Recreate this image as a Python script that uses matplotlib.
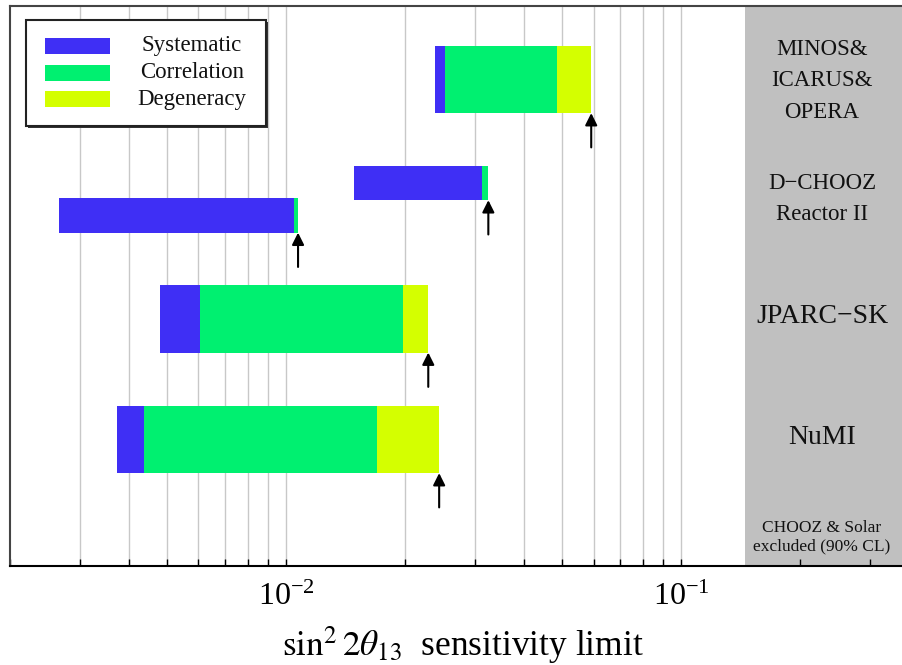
import numpy as np
import matplotlib.pyplot as plt
from matplotlib.patches import Rectangle
from matplotlib.transforms import blended_transform_factory

plt.rcParams['font.family'] = ['Liberation Serif', 'DejaVu Serif']
plt.rcParams['mathtext.fontset'] = 'stix'

# bar edges per experiment (sin^2 2theta13)
experiments = ['NuMI', 'JPARC-SK', 'Reactor II', 'D-CHOOZ', 'MINOS&ICARUS&OPERA']
start = [0.00373, 0.0048, 0.00266, 0.01486, 0.0238]
systematic = [0.00437, 0.00606, 0.01048, 0.0313, 0.0253]
correlation = [0.0170, 0.0198, 0.01072, 0.0325, 0.0486]
degeneracy = [0.0244, 0.0229, 0.01072, 0.0325, 0.0592]
excluded_from = 0.145

group_labels = ['NuMI', 'JPARC\u2212SK', 'D\u2212CHOOZ\nReactor II', 'MINOS&\nICARUS&\nOPERA',
                'CHOOZ & Solar\nexcluded (90% CL)']
legend_labels = ['Systematic', 'Correlation', 'Degeneracy']
colors = ['#3f2ff5', '#00f070', '#d4ff00']

# layout
row_y = [1.807, 3.529, 5.007, 5.471, 6.95]
row_h = [0.96, 0.96, 0.49, 0.49, 0.96]
label_y = [1.84, 3.57, 5.243, 6.93, 0.414]
label_size = [20, 20, 16.5, 16.5, 12.5]
label_spacing = [1.2, 1.2, 1.65, 1.65, 1.2]

fig = plt.figure(figsize=(9.02, 6.65), dpi=100)
ax = fig.add_axes([10 / 902, 99 / 665, 909 / 902, 560 / 665])
ax.set_xscale('log')
ax.set_xlim(0.002, 0.4)
ax.set_ylim(0, 8)

# grid lines only left of the shaded region
grid_x = np.outer(np.arange(1, 10), 10.0 ** np.arange(-3, 0)).T.ravel()
grid_x = grid_x[(grid_x > 0.002) & (grid_x < excluded_from)]
ax.vlines(grid_x, 0, 8, color='#c8c8c8', lw=1, zorder=0.8)
ax.axvspan(excluded_from, 0.4, color='#c0c0c0', zorder=0.9, lw=0)

s = np.array(start)
e1 = np.array(systematic)
e2 = np.array(correlation)
e3 = np.array(degeneracy)
ax.barh(row_y, e1 - s, left=s, height=row_h, color=colors[0], zorder=2)
ax.barh(row_y, e2 - e1, left=e1, height=row_h, color=colors[1], zorder=2)
ax.barh(row_y, e3 - e2, left=e2, height=row_h, color=colors[2], zorder=2)

for x, y, h in zip(e3, row_y, row_h):
    ax.annotate('', xy=(x, y - h / 2), xytext=(x, y - h / 2 - 0.49),
                arrowprops=dict(arrowstyle='-|>', color='black', lw=1.5,
                                mutation_scale=18, shrinkA=0, shrinkB=0),
                zorder=3)

tr = blended_transform_factory(ax.transAxes, ax.transData)
for txt, y, fs, ls in zip(group_labels, label_y, label_size, label_spacing):
    ax.text(0.8933, y, txt, transform=tr, ha='center', va='center',
            fontsize=fs, linespacing=ls, color='#111111')


# legend drawn in pixel-based axes fractions
def fx(px):
    return (px - 10) / 909


def fy(py):
    return (566 - py) / 560


ax.add_patch(Rectangle((fx(28), fy(128)), fx(268) - fx(28), fy(22) - fy(128),
                       transform=ax.transAxes, facecolor='#333333', lw=0, zorder=3.9))
ax.add_patch(Rectangle((fx(26), fy(126)), fx(266) - fx(26), fy(20) - fy(126),
                       transform=ax.transAxes, facecolor='white', edgecolor='#222222',
                       lw=1.5, zorder=4))
for i, (lab, c) in enumerate(zip(legend_labels, colors)):
    yc = 46 + i * 26.7
    ax.add_patch(Rectangle((fx(45), fy(yc + 8)), fx(110) - fx(45), fy(yc - 8) - fy(yc + 8),
                           transform=ax.transAxes, facecolor=c, lw=0, zorder=5))
    ax.text(fx(192), fy(yc), lab, transform=ax.transAxes, ha='center', va='center',
            fontsize=16.5, color='#111111', zorder=5)

ax.set_yticks([])
ax.tick_params(axis='x', which='both', direction='in', top=False, length=5,
               width=1, labelsize=23, pad=12)
ax.spines['right'].set_visible(False)
for sp in ['left', 'top', 'bottom']:
    ax.spines[sp].set_linewidth(1.5)
ax.spines['left'].set_color('#444444')
ax.spines['top'].set_color('#444444')
ax.set_xlabel(r'$\sin^2 2\theta_{13}$  sensitivity limit', fontsize=25.5, labelpad=4)
ax.xaxis.set_label_coords(fx(463), -(624 - 566) / 560)

fig.savefig('out.png', dpi=100)
